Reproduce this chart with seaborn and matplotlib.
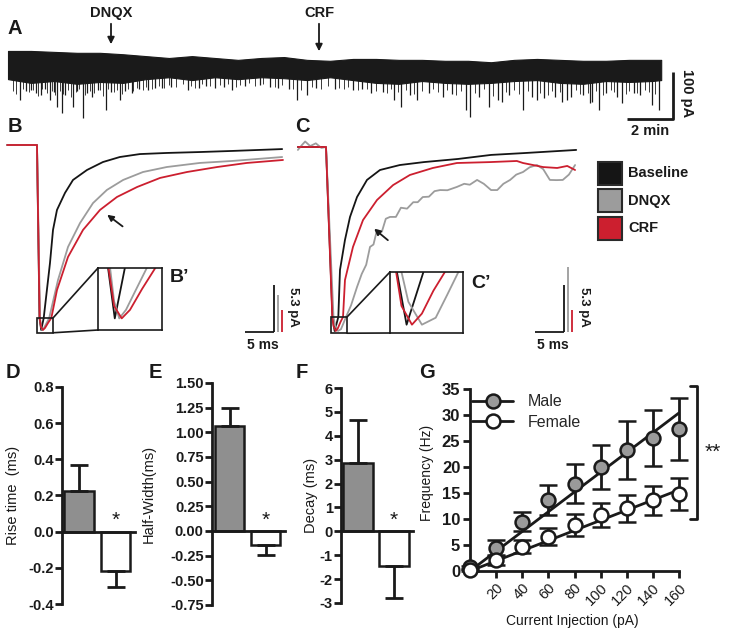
import numpy as np
import pandas as pd
import matplotlib
matplotlib.use("Agg")
import matplotlib.pyplot as plt
import seaborn as sns
from matplotlib.patches import Rectangle, ConnectionPatch
from matplotlib.lines import Line2D
from matplotlib import font_manager

sns.set_theme(style="ticks")
installed = {f.name for f in font_manager.fontManager.ttflist}
NARROW = "Liberation Sans Narrow" if "Liberation Sans Narrow" in installed else "Liberation Sans"
plt.rcParams["font.family"] = ["Liberation Sans", "DejaVu Sans"]

# ---------------- data ----------------
# A: long recording (time in min, current in pA)
a_t = [0, 1, 2, 3, 4, 5, 6, 7, 8, 9, 10, 11, 12, 13, 14, 15, 16, 17, 18, 19,
       20, 21, 22, 23, 24, 25, 26, 27, 28, 28.4]
a_top = [-2, -2, -4, -6, -6, -9, -13, -17, -13, -17, -21, -17, -15, -21, -23,
         -19, -19, -21, -21, -23, -23, -26, -21, -19, -21, -23, -23, -21, -21, -21]
a_band = [-62, -70, -66, -72, -68, -70, -62, -58, -64, -58, -62, -58, -60, -64, -58,
          -64, -70, -72, -66, -70, -72, -70, -66, -64, -70, -72, -66, -68, -66, -64]
spike_t = [0.51, 0.8, 1.01, 1.2, 1.42, 1.6, 1.83, 2.0, 2.13, 2.33, 2.5, 2.84, 3.0,
           3.24, 3.45, 3.65, 3.9, 4.26, 4.5, 4.87, 5.1, 5.37, 5.7, 6.08, 6.4, 6.69,
           7.1, 7.81, 8.31, 8.6, 9.0, 9.4, 9.73, 10.3, 10.95, 11.4, 11.76, 12.2,
           12.57, 12.98, 13.4, 14.2, 15.0, 15.4, 15.8, 16.3, 16.8, 17.1, 17.5, 17.8,
           18.3, 18.9, 19.3, 19.9, 20.1, 20.5, 20.9, 21.3, 21.5, 21.8, 22.4, 22.8,
           23.0, 23.3, 23.8, 24.1, 24.3, 24.5, 25.0, 25.3, 25.4, 25.7, 26.0, 26.5,
           26.7, 27.2, 27.5, 28.0, 28.3]
spike_amp = [-106, -88, -85, -92, -96, -84, -106, -90, -121, -135, -95, -121, -88,
             -145, -92, -99, -86, -128, -90, -106, -88, -92, -84, -85, -80, -81,
             -78, -85, -81, -76, -80, -78, -85, -77, -74, -79, -81, -84,
             -106, -96, -80, -82, -85, -84, -92, -90, -106, -121, -95, -106,
             -92, -99, -94, -128, -142, -100, -121, -106, -111, -96, -128, -100,
             -106, -102, -100, -111, -106, -100, -96, -113, -111, -128, -91, -100,
             -113, -91, -96, -117, -128]
minor_t = [0.2, 0.35, 0.65, 0.9, 1.1, 1.3, 1.5, 1.7, 1.9, 2.05,
           2.25, 2.4, 2.6, 2.75, 2.95, 3.1, 3.35, 3.55, 3.75, 4.0,
           4.15, 4.35, 4.6, 4.75, 4.95, 5.2, 5.45, 5.6, 5.85, 6.0,
           6.25, 6.55, 6.8, 7.0, 7.3, 7.6, 7.95, 8.15, 8.45, 8.8,
           9.2, 9.55, 9.9, 10.1, 10.5, 10.75, 11.1, 11.6, 11.9, 12.4,
           12.75, 13.2, 13.6, 13.9, 14.4, 14.6, 14.8, 15.2, 15.6, 16.0,
           16.5, 16.65, 16.95, 17.3, 17.65, 18.0, 18.5, 18.7, 19.1, 19.5,
           19.7, 20.3, 20.7, 21.1, 21.65, 22.0, 22.2, 22.6, 23.15, 23.5,
           23.65, 24.0, 24.7, 24.85, 25.2, 25.55, 25.85, 26.2, 26.35, 26.85,
           27.0, 27.35, 27.7, 27.85, 28.15]
minor_amp = [-88, -94, -82, -90, -86, -98, -84, -92, -88, -95,
             -87, -93, -85, -100, -89, -84, -96, -88, -91, -86,
             -97, -84, -90, -86, -93, -82, -88, -80, -85, -78,
             -82, -76, -80, -74, -78, -72, -76, -80, -73, -77,
             -75, -72, -79, -74, -71, -76, -73, -78, -75, -82,
             -86, -78, -84, -76, -80, -84, -78, -86, -82, -88,
             -92, -84, -90, -86, -94, -88, -84, -90, -86, -95,
             -88, -92, -84, -98, -90, -86, -94, -88, -92, -96,
             -88, -90, -86, -94, -92, -88, -96, -86, -90, -94,
             -88, -92, -86, -90, -94]

# B: averaged, peak-normalised EPSCs (time in ms)
b_base_t = [-5.5, -0.18, 0.27, 0.57, 1.02, 2.14, 2.68, 3.39, 4.82, 6.25, 8.75,
            11.6, 14.6, 18.2, 23.0, 28.9, 34.8, 43.6]
b_base_i = [0, 0, -0.935, -1.0, -0.935, -0.638, -0.459, -0.351, -0.259, -0.189,
            -0.135, -0.092, -0.065, -0.049, -0.043, -0.038, -0.032, -0.022]
b_dnqx_t = [-5.5, -0.18, 0.36, 0.54, 0.77, 1.07, 1.43, 2.0, 3.57, 5.36, 7.5, 9.82,
            12.3, 15.2, 18.75, 23.0, 28.9, 34.8, 43.6]
b_dnqx_i = [0, 0, -0.935, -0.978, -1.0, -0.989, -0.968, -0.935, -0.730, -0.551,
            -0.422, -0.314, -0.243, -0.189, -0.146, -0.119, -0.097, -0.086, -0.065]
b_crf_t = [-5.5, -0.18, 0.29, 0.54, 0.88, 1.25, 1.79, 2.38, 3.39, 5.36, 8.04,
           11.07, 14.1, 17.7, 21.8, 26.6, 32.0, 37.3, 43.75]
b_crf_i = [0, 0, -0.935, -0.984, -1.0, -0.989, -0.962, -0.935, -0.784, -0.605,
           -0.459, -0.351, -0.281, -0.227, -0.178, -0.146, -0.119, -0.097, -0.081]
b_peak_pA = [20.9, 26.5, 44.5]   # baseline, DNQX, CRF

# C
c_base_t = [-5.2, -0.18, 0.98, 1.36, 2.02, 2.32, 3.21, 4.11, 5.36, 7.14, 9.46,
            13.0, 17.3, 23.4, 29.3, 35.2, 44.5]
c_base_i = [0, 0, -0.924, -1.0, -0.924, -0.668, -0.505, -0.380, -0.272, -0.179,
            -0.125, -0.098, -0.082, -0.065, -0.043, -0.033, -0.016]
c_dnqx_t = [-5.2, -4.5, -3.9, -3.0, -2.0, -1.0, -0.18, 1.16, 1.43, 1.96, 2.5, 2.95,
            3.39, 4.3, 5.36, 6.2, 7.0, 7.68, 8.3, 8.93, 9.8, 10.5, 11.25, 12.3,
            13.2, 14.3, 15.4, 16.2, 17.1, 18.2, 19.2, 20.2, 21.5, 23.2, 24.5, 25.5,
            26.8, 28.0, 29.3, 30.4, 31.5, 32.7, 33.8, 35.0, 36.2, 37.5, 38.6, 39.8,
            41.0, 42.1, 43.2, 44.3]
c_dnqx_i = [-0.016, 0.01, 0.03, 0.005, 0.02, -0.005, 0, -0.924, -0.967, -1.0, -0.99,
            -0.957, -0.924, -0.86, -0.761, -0.69, -0.64, -0.543, -0.53, -0.451,
            -0.46, -0.39, -0.380, -0.38, -0.33, -0.335, -0.30, -0.30, -0.272, -0.27,
            -0.24, -0.234, -0.235, -0.217, -0.20, -0.205, -0.179, -0.2, -0.234,
            -0.234, -0.2, -0.179, -0.15, -0.136, -0.11, -0.098, -0.12, -0.179,
            -0.18, -0.179, -0.15, -0.098]
c_crf_t = [-5.2, -0.18, 0.95, 1.16, 1.57, 1.96, 2.41, 2.86, 3.21, 4.64, 6.43, 8.93,
           11.8, 14.8, 18.9, 23.2, 29.1, 33.9, 35.0, 38.6, 41.1, 42.9, 44.3]
c_crf_i = [0, 0, -0.924, -0.973, -1.0, -0.984, -0.951, -0.924, -0.723, -0.543,
           -0.397, -0.288, -0.207, -0.152, -0.114, -0.087, -0.082, -0.076, -0.087,
           -0.109, -0.114, -0.103, -0.125]
c_peak_pA = [20.8, 15.0, 44.3]

trace_names = ["Baseline", "DNQX", "CRF"]
trace_colors = ["#151515", "#9c9c9c", "#cc1f2f"]

# D-F: change from baseline
groups = ["Male", "Female"]
rise_mean = [0.225, -0.217]
rise_sem = [0.145, 0.088]
width_mean = [1.06, -0.14]
width_sem = [0.19, 0.10]
decay_mean = [2.85, -1.47]
decay_sem = [1.80, 1.30]

# G: firing frequency
current_pA = [0, 20, 40, 60, 80, 100, 120, 140, 160]
male_hz = [0.7, 4.4, 9.5, 13.6, 16.8, 20.0, 23.3, 25.6, 27.3]
male_sem = [0.3, 1.5, 1.9, 2.9, 3.7, 4.2, 5.6, 5.4, 5.9]
female_hz = [0.2, 2.1, 4.7, 6.6, 8.9, 10.8, 12.1, 13.6, 14.8]
female_sem = [0.2, 1.0, 1.3, 1.6, 2.1, 2.3, 2.6, 2.8, 3.1]
fit_x = [0, 160]
male_fit = [0.0, 30.4]
female_fit = [0.0, 15.6]

# ---------------- layout helpers ----------------
W, H = 729, 632


def box(x0, y0, x1, y1):
    return [x0 / W, 1 - y1 / H, (x1 - x0) / W, (y1 - y0) / H]


fig = plt.figure(figsize=(W / 100, H / 100), dpi=100)
ov = fig.add_axes([0, 0, 1, 1])
ov.set_xlim(0, W)
ov.set_ylim(H, 0)
ov.axis("off")

bold = dict(fontweight="bold", color="k")
for lab, (x, y) in {"A": (15, 28), "B": (15, 127), "C": (302, 127), "D": (13, 372),
                    "E": (155, 372), "F": (302, 373), "G": (427, 373)}.items():
    ov.text(x, y, lab, fontsize=14.5, ha="center", va="center", **bold)

# ---------------- A ----------------
axA = fig.add_axes(box(0, 0, 729, 140))
axA.set_xlim(-8 / 23, 721 / 23)
axA.set_ylim(-90 / 0.47, 50 / 0.47)
axA.axis("off")
axA.fill_between(a_t, a_top, a_band, color="k", lw=0.8)
axA.vlines(minor_t, -40, minor_amp, color="#1a1a1a", lw=0.6)
axA.vlines(spike_t, -40, spike_amp, color="k", lw=0.9)
axA.plot([26.9, 28.9, 28.9], [-147, -147, -47], color="k", lw=2, solid_capstyle="butt")
ov.text(687, 93, "100 pA", rotation=-90, fontsize=10.5, ha="center", va="center", **bold)
ov.text(650, 131, "2 min", fontsize=10.5, ha="center", va="center", **bold)
for name, x, y_tip in [("DNQX", 111, 47), ("CRF", 319, 54)]:
    ov.text(x, 13, name, fontsize=10.5, ha="center", va="center", **bold)
    ov.annotate("", xy=(x, y_tip), xytext=(x, 21),
                arrowprops=dict(arrowstyle="-|>", color="k", lw=1.3, mutation_scale=10))


# ---------------- B and C ----------------
def trace_panel(rect, x0, y0, depth, traces, peaks, zoom, inset_rect, bar_x, arrow):
    ax = fig.add_axes(box(*rect))
    ax.set_xlim((rect[0] - x0) / 5.6, (rect[2] - x0) / 5.6)
    ax.set_ylim((y0 - rect[3]) / depth, (y0 - rect[1]) / depth)
    ax.axis("off")
    for (t, i), c in zip(traces, trace_colors):
        ax.plot(t, i, color=c, lw=1.3)
    zx0, zx1, zy0, zy1 = zoom
    ax.add_patch(Rectangle((zx0, zy0), zx1 - zx0, zy1 - zy0, fill=False, ec="k", lw=1.2, zorder=5))
    axi = fig.add_axes(box(*inset_rect))
    for (t, i), c in zip(traces, trace_colors):
        axi.plot(t, i, color=c, lw=1.3)
    axi.set_xlim(zx0, zx1)
    axi.set_ylim(zy0, zy1)
    axi.set_xticks([])
    axi.set_yticks([])
    for s in axi.spines.values():
        s.set_color("k")
        s.set_linewidth(1.2)
        s.set_visible(True)
    for ya, yb in [(zy1, 1), (zy0, 0)]:
        fig.add_artist(ConnectionPatch((zx1, ya), (0, yb), coordsA="data", coordsB="axes fraction",
                                       axesA=ax, axesB=axi, color="k", lw=1.2))
    # scale bars: 5 ms and 5.3 pA for each normalised trace
    yb = (y0 - 332) / depth
    ax.plot([bar_x - 5.2, bar_x], [yb, yb], color="k", lw=1.3, solid_capstyle="butt", clip_on=False)
    for k, (pk, c) in enumerate(zip(peaks, trace_colors)):
        xb = bar_x + 0.75 * k
        ax.plot([xb, xb], [yb, yb + 5.3 / pk], color=c, lw=1.3, solid_capstyle="butt", clip_on=False)
    ax.annotate("", xy=arrow[1], xytext=arrow[0],
                arrowprops=dict(arrowstyle="-|>", color="k", lw=1.3, mutation_scale=9))
    return ax


trace_panel((0, 120, 300, 345), 38, 145, 185,
            [(b_base_t, b_base_i), (b_dnqx_t, b_dnqx_i), (b_crf_t, b_crf_i)], b_peak_pA,
            (-0.18, 2.68, -1.015, -0.935), (98, 268, 162, 330), 42.14,
            ((15.5, -0.449), (11.96, -0.368)))
trace_panel((290, 120, 590, 345), 327, 147, 184,
            [(c_base_t, c_base_i), (c_dnqx_t, c_dnqx_i), (c_crf_t, c_crf_i)], c_peak_pA,
            (0.71, 3.57, -1.012, -0.924), (390, 272, 463, 333), 42.3,
            ((11.25, -0.516), (8.04, -0.435)))
ov.text(180, 278, "B\u2019", fontsize=14, ha="center", va="center", **bold)
ov.text(481, 283, "C\u2019", fontsize=14, ha="center", va="center", **bold)
for x in (293, 584):
    ov.text(x, 307, "5.3 pA", rotation=-90, fontsize=9.5, ha="center", va="center", **bold)
ov.text(263, 345, "5 ms", fontsize=10, ha="center", va="center", **bold)
ov.text(553, 345, "5 ms", fontsize=10, ha="center", va="center", **bold)

for k, (name, c) in enumerate(zip(trace_names, trace_colors)):
    yc = 173 + 27.5 * k
    ov.add_patch(Rectangle((598, yc - 11.5), 24, 23, fc=c, ec="#2a2a2a", lw=1.5))
    ov.text(628, yc, name, fontsize=10.5, ha="left", va="center", **bold)


# ---------------- D, E, F ----------------
def bar_panel(rect, mean, sem, ylim, ticks, fmt, ylabel, lab_x, width, xlim):
    ax = fig.add_axes(box(*rect))
    df = pd.DataFrame({"group": groups, "value": mean})
    sns.barplot(data=df, x="group", y="value", hue="group", palette=["#8f8f8f", "white"],
                width=width, edgecolor="k", linewidth=1.8, legend=False, ax=ax)
    ax.errorbar([0], [mean[0]], yerr=[[0], [sem[0]]], fmt="none", ecolor="k",
                elinewidth=2, capsize=6.5, capthick=2, clip_on=False)
    ax.errorbar([1], [mean[1]], yerr=[[sem[1]], [0]], fmt="none", ecolor="k",
                elinewidth=2, capsize=6.5, capthick=2, clip_on=False)
    ax.annotate("*", xy=(1, 0), xytext=(0, 1), textcoords="offset points",
                ha="center", va="bottom", fontsize=15, color="k")
    ax.set_xlim(*xlim)
    ax.set_ylim(*ylim)
    ax.set_yticks(ticks)
    ax.set_yticklabels([fmt.format(v) for v in ticks], fontweight="bold", fontsize=10.5)
    ax.set_xticks([])
    ax.set_xlabel("")
    ax.set_ylabel(ylabel, fontsize=10.5, color="k")
    ax.yaxis.set_label_coords(lab_x, 0.5)
    sns.despine(ax=ax)
    ax.spines["bottom"].set_position(("data", 0))
    for s in ("left", "bottom"):
        ax.spines[s].set_linewidth(2)
        ax.spines[s].set_color("k")
    ax.tick_params(axis="y", direction="out", length=5, width=2, pad=1, colors="k")
    ax.patch.set_alpha(0)


bar_panel((62, 387, 135, 604), rise_mean, rise_sem, (-0.4, 0.8),
          [-0.4, -0.2, 0.0, 0.2, 0.4, 0.6, 0.8], "{:.1f}", "Rise time  (ms)", -0.58, 0.82,
          (-0.466, 1.534))
bar_panel((212, 383, 285, 605), width_mean, width_sem, (-0.75, 1.5),
          [-0.75, -0.5, -0.25, 0.0, 0.25, 0.5, 0.75, 1.0, 1.25, 1.5], "{:.2f}",
          "Half-Width(ms)", -0.77, 0.8, (-0.486, 1.54))
bar_panel((341, 388, 413, 603), decay_mean, decay_sem, (-3, 6),
          list(range(-3, 7)), "{:d}", "Decay (ms)", -0.32, 0.83, (-0.47, 1.53))

# ---------------- G ----------------
axG = fig.add_axes(box(470, 389, 679, 571))
for hz, sem, fc, fit in [(male_hz, male_sem, "#9a9a9a", male_fit),
                         (female_hz, female_sem, "white", female_fit)]:
    sns.lineplot(x=fit_x, y=fit, color="k", lw=2, ax=axG, zorder=2)
    axG.errorbar(current_pA, hz, yerr=sem, fmt="o", ms=10, mfc=fc, mec="k", mew=1.8,
                 ecolor="k", elinewidth=2, capsize=6.5, capthick=2, clip_on=False, zorder=3)
axG.set_xlim(0, 160)
axG.set_ylim(0, 35)
axG.set_xticks(range(20, 161, 20))
axG.set_xticklabels([str(v) for v in range(20, 161, 20)], rotation=45, ha="right",
                    rotation_mode="anchor", fontsize=10.5, family=NARROW)
axG.set_yticks(range(0, 36, 5))
axG.set_yticklabels([str(v) for v in range(0, 36, 5)], fontsize=12, fontweight="bold")
axG.set_xlabel("Current Injection (pA)", fontsize=10, family=NARROW, color="k")
axG.set_ylabel("Frequency (Hz)", fontsize=10, family=NARROW, color="k")
axG.xaxis.set_label_coords(0.49, -0.235)
axG.yaxis.set_label_coords(-0.17, 0.54)
sns.despine(ax=axG)
for s in ("left", "bottom"):
    axG.spines[s].set_linewidth(2)
    axG.spines[s].set_color("k")
axG.tick_params(direction="out", length=5, width=2, pad=2, colors="k")
axG.patch.set_alpha(0)
handles = [Line2D([0], [0], color="k", lw=2, marker="o", ms=10, mfc=fc, mec="k", mew=1.8)
           for fc in ("#9a9a9a", "white")]
leg = axG.legend(handles, ["Male", "Female"], loc="upper left", bbox_to_anchor=(-0.06, 1.05),
                 frameon=False, handlelength=2.6, handletextpad=0.9, labelspacing=0.35,
                 prop=dict(family=NARROW, size=11.5))

ov.plot([690, 697, 697, 690], [386, 386, 519, 519], color="k", lw=2)
ov.text(713, 452, "**", fontsize=15, ha="center", va="center", color="k")

fig.savefig("out.png", dpi=100)
